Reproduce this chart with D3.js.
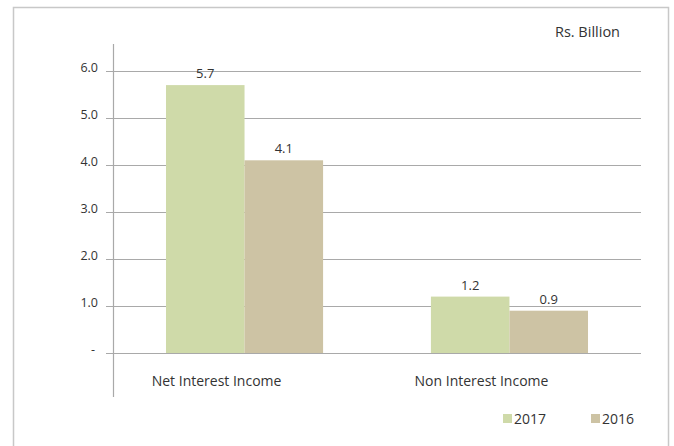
<!DOCTYPE html>
<html lang="en">
<head>
<meta charset="utf-8">
<style>
  html, body { margin: 0; padding: 0; background: #fff; }
  svg text { font-family: "Open Sans", "Noto Sans", sans-serif; fill: #333; }
</style>
</head>
<body>
<svg width="674" height="446"></svg>
<script src="https://cdn.jsdelivr.net/npm/d3@7/dist/d3.min.js"></script>
<script>
const categories = ["Net Interest Income", "Non Interest Income"]
const years = ["2017", "2016"]
const values2017 = [5.7, 1.2]
const values2016 = [4.1, 0.9]
const yTicks = [0, 1, 2, 3, 4, 5, 6]
const tickLabels = ["-", "1.0", "2.0", "3.0", "4.0", "5.0", "6.0"]
const unitLabel = "Rs. Billion"

const colors = { "2017": "#cfdaa9", "2016": "#cdc3a4" }

const svg = d3.select("svg")

// outer frame
svg.append("rect")
  .attr("x", 13.5).attr("y", 7.5)
  .attr("width", 655).attr("height", 450)
  .attr("fill", "none")
  .attr("stroke", "#c8c8c8")
  .attr("stroke-width", 1.5)

const left = 113, right = 641
const y = d3.scaleLinear().domain([0, 6]).range([353, 71])

const x0 = d3.scaleBand().domain(categories).range([left, right]).paddingInner(0.407).paddingOuter(0.2)
const x1 = d3.scaleBand().domain(years).range([0, x0.bandwidth()])

// gridlines
svg.append("g").selectAll("line")
  .data(yTicks)
  .join("line")
  .attr("x1", 106).attr("x2", right)
  .attr("y1", d => Math.round(y(d)) + 0.5).attr("y2", d => Math.round(y(d)) + 0.5)
  .attr("stroke", "#a9a9a9").attr("stroke-width", 1.2)

// tick labels
svg.append("g").selectAll("text")
  .data(yTicks)
  .join("text")
  .attr("x", (d, i) => i === 0 ? 95 : 98)
  .attr("y", d => y(d) + 1)
  .attr("text-anchor", "end")
  .attr("font-size", 12.5)
  .text((d, i) => tickLabels[i])

// vertical axis line
svg.append("line")
  .attr("x1", left + 0.5).attr("x2", left + 0.5)
  .attr("y1", 44).attr("y2", 397)
  .attr("stroke", "#a9a9a9").attr("stroke-width", 1.2)

const rows = categories.map((c, i) => ({ cat: c, vals: [
  { year: "2017", v: values2017[i] },
  { year: "2016", v: values2016[i] }
] }))

const groups = svg.append("g").selectAll("g")
  .data(rows)
  .join("g")
  .attr("transform", d => `translate(${x0(d.cat)},0)`)

groups.selectAll("rect")
  .data(d => d.vals)
  .join("rect")
  .attr("x", d => x1(d.year))
  .attr("width", x1.bandwidth())
  .attr("y", d => y(d.v))
  .attr("height", d => y(0) - y(d.v))
  .attr("fill", d => colors[d.year])

groups.selectAll("text.val")
  .data(d => d.vals)
  .join("text")
  .attr("class", "val")
  .attr("x", d => x1(d.year) + x1.bandwidth() / 2)
  .attr("y", d => y(d.v) - 7)
  .attr("text-anchor", "middle")
  .attr("font-size", 13)
  .text(d => d.v.toFixed(1))

// category labels sit a little left of the bar pair, as in the original
groups.append("text")
  .attr("x", x0.bandwidth() / 2 - 28)
  .attr("y", 386)
  .attr("text-anchor", "middle")
  .attr("font-size", 14)
  .text(d => d.cat)

// unit label
svg.append("text")
  .attr("x", 620).attr("y", 37)
  .attr("text-anchor", "end")
  .attr("font-size", 14.5)
  .text(unitLabel)

// legend
const legendX = [503, 591]
const legend = svg.append("g").selectAll("g")
  .data(years)
  .join("g")
  .attr("transform", (d, i) => `translate(${legendX[i]},424)`)

legend.append("rect")
  .attr("x", 0).attr("y", -10)
  .attr("width", 9).attr("height", 9)
  .attr("fill", d => colors[d])

legend.append("text")
  .attr("x", 11).attr("y", 0)
  .attr("font-size", 14)
  .text(d => d)
</script>
</body>
</html>
